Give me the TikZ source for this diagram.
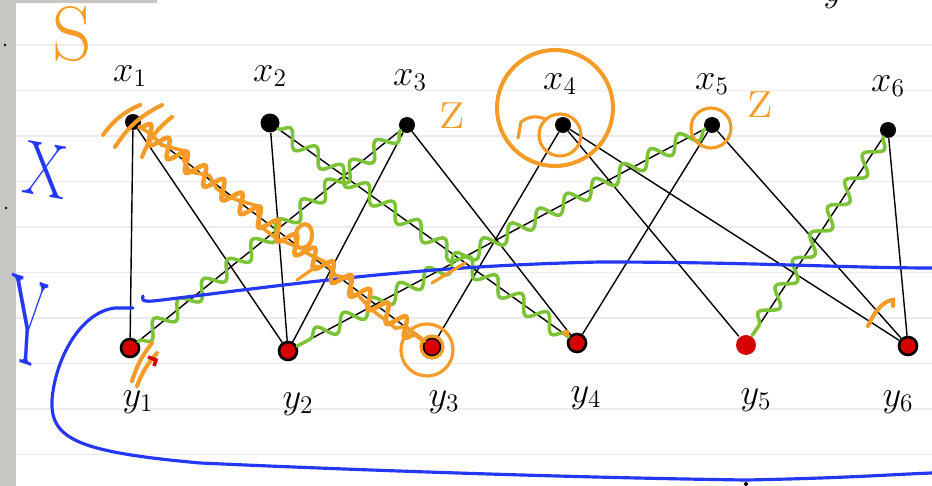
\documentclass[tikz,border=0pt]{standalone}
\usepackage{tikz}
\usetikzlibrary{decorations.pathmorphing}
\definecolor{penorange}{RGB}{245,155,40}
\definecolor{pengreen}{RGB}{125,195,55}
\definecolor{penblue}{RGB}{35,55,245}
\definecolor{dotred}{RGB}{215,0,0}
\definecolor{papergray}{RGB}{200,198,194}
\definecolor{ruleline}{RGB}{234,236,238}

\begin{document}
\begin{tikzpicture}[x=0.02cm,y=-0.02cm,
    xvert/.style={circle,fill=black,inner sep=0pt,minimum size=0.32cm},
    yvert/.style={circle,fill=dotred,draw=black,line width=1.5pt,inner sep=0pt,minimum size=0.36cm},
    lab/.style={font=\huge},
    edge/.style={line width=0.8pt},
    match/.style={pengreen,line width=2pt,line cap=round,decorate,
      decoration={snake,amplitude=4.5pt,segment length=18pt}},
    opath/.style={penorange,line width=2.3pt,line cap=round},
    bpen/.style={penblue,line width=1.8pt,line cap=round}]
  \useasboundingbox (0,0) rectangle (932,486);
  % Paper
  \fill[white] (0,0) rectangle (932,486);
  \foreach \k in {0,...,9}
    \draw[ruleline,line width=0.6pt] (16,45.5*\k+45) -- (932,45.5*\k+45);
  \fill[papergray] (0,0) rectangle (16,486);
  \fill[papergray] (0,0) rectangle (157,3);
  \fill[black] (5,45) circle (1.3) (6,208) circle (1.3) (746,484) circle (2);

  % Vertices of X
  \node[xvert] (x1) at (133,122) {};
  \node[xvert,minimum width=0.38cm] (x2) at (270,123) {};
  \node[xvert] (x3) at (407,125) {};
  \node[xvert] (x4) at (563,125) {};
  \node[xvert] (x5) at (712,125) {};
  \node[xvert] (x6) at (888,130) {};
  % Vertices of Y
  \node[yvert] (y1) at (130,348) {};
  \node[yvert] (y2) at (288,351) {};
  \node[yvert] (y3) at (432,347) {};
  \node[yvert] (y4) at (577,343) {};
  \node[yvert,draw=none,minimum size=0.4cm] (y5) at (746,345) {};
  \node[yvert] (y6) at (908,346) {};

  % Edges
  \draw[edge] (x1) -- (y1);
  \draw[edge] (x1) -- (y2);
  \draw[edge] (x1) -- (y3);
  \draw[edge] (x2) -- (y2);
  \draw[edge] (x2) -- (y4);
  \draw[edge] (x3) -- (y1);
  \draw[edge] (x3) -- (y2);
  \draw[edge] (x3) -- (y4);
  \draw[edge] (x4) -- (y3);
  \draw[edge] (x4) -- (y5);
  \draw[edge] (x4) -- (y6);
  \draw[edge] (x5) -- (y2);
  \draw[edge] (x5) -- (y4);
  \draw[edge] (x5) -- (y6);
  \draw[edge] (x6) -- (y5);
  \draw[edge] (x6) -- (y6);

  % Matching
  \draw[match] (x3) -- (y1);
  \draw[match] (x2) -- (y4);
  \draw[match] (x5) -- (y2);
  \draw[match] (x6) -- (y5);

  % Labels
  \node[lab] (lx1) at (130,76) {$x_1$};
  \node[lab] (lx2) at (270,76) {$x_2$};
  \node[lab] (lx3) at (410,80) {$x_3$};
  \node[lab] (lx4) at (560,84) {$x_4$};
  \node[lab] (lx5) at (712,84) {$x_5$};
  \node[lab] (lx6) at (888,86) {$x_6$};
  \node[lab] (ly1) at (138,402) {$y_1$};
  \node[lab] (ly2) at (298,404) {$y_2$};
  \node[lab] (ly3) at (444,402) {$y_3$};
  \node[lab] (ly4) at (586,398) {$y_4$};
  \node[lab] (ly5) at (756,400) {$y_5$};
  \node[lab] (ly6) at (898,402) {$y_6$};
  \node[font=\huge] (ytop) at (833,-3) {$y$};

  % Set Y
  \draw[bpen] (143,296) .. controls (141,302) and (146,302) .. (162,300)
    .. controls (300,283) and (420,266) .. (600,262)
    .. controls (750,262) and (850,268) .. (932,268);
  \draw[bpen] (133,308) -- (115,308) .. controls (80,312) and (55,360) .. (52,400)
    .. controls (50,440) and (80,452) .. (200,463)
    .. controls (400,472) and (600,478) .. (746,480)
    .. controls (850,478) and (900,474) .. (932,473);
  \node[penblue,font=\fontsize{44}{44}\selectfont,xscale=0.8,rotate=-8] (setx) at (46,170) {X};
  \node[penblue,font=\fontsize{72}{72}\selectfont,xscale=0.42,rotate=-8] (sety) at (28,322) {Y};

  % Alternating path
  \draw[opath,line width=2.6pt,decorate,decoration={snake,amplitude=5pt,segment length=13pt}] (x1) -- (y3);
  \draw[opath,line width=2pt,decorate,decoration={random steps,amplitude=4.5pt,segment length=8pt}] (x1) -- (y3);
  \draw[opath] (x1) ++(-30,13) to[bend left=15] ++(37,-30);
  \draw[opath] (x1) ++(-18,25) to[bend left=15] ++(47,-42);
  \draw[opath] (x1) ++(9,35) to[bend left=15] ++(30,-40);
  \draw[opath] (132,381) to[bend left=10] (152,343);
  \draw[opath] (137,386) to[bend left=10] (157,353);
  \draw[dotred,line width=2pt] (148,357) -- (156,360) -- (154,366);
  \draw[opath] (298,247) .. controls (288,225) and (312,215) .. (312,235)
    .. controls (312,245) and (305,250) .. (298,247);
  \draw[opath,line width=1.8pt] (297,280) -- (317,266);
  \draw[opath,line width=1.8pt] (432,283) -- (465,263);
  \draw[opath,line width=1.8pt] (y3) circle (11);
  \draw[opath,line width=1.8pt] (427,350) circle (26);
  \draw[opath] (555,108) circle (58);
  \draw[opath,line width=1.8pt] (560,135) circle (21);
  \draw[opath,line width=1.8pt] (518,138) -- (521,122) to[bend left] (545,119);
  \draw[opath,line width=1.8pt] (711,128) circle (20);
  \draw[opath] (868,326) .. controls (875,310) and (885,300) .. (893,300) -- (893,306);
  \fill[penorange] (566,333) circle (3.5);
  \node[penorange,font=\fontsize{44}{44}\selectfont] (s) at (72,34) {S};
  \node[penorange,font=\fontsize{34}{34}\selectfont] (zx3) at (453,116) {z};
  \node[penorange,font=\fontsize{34}{34}\selectfont] (zx5) at (761,105) {z};
\end{tikzpicture}
\end{document}
